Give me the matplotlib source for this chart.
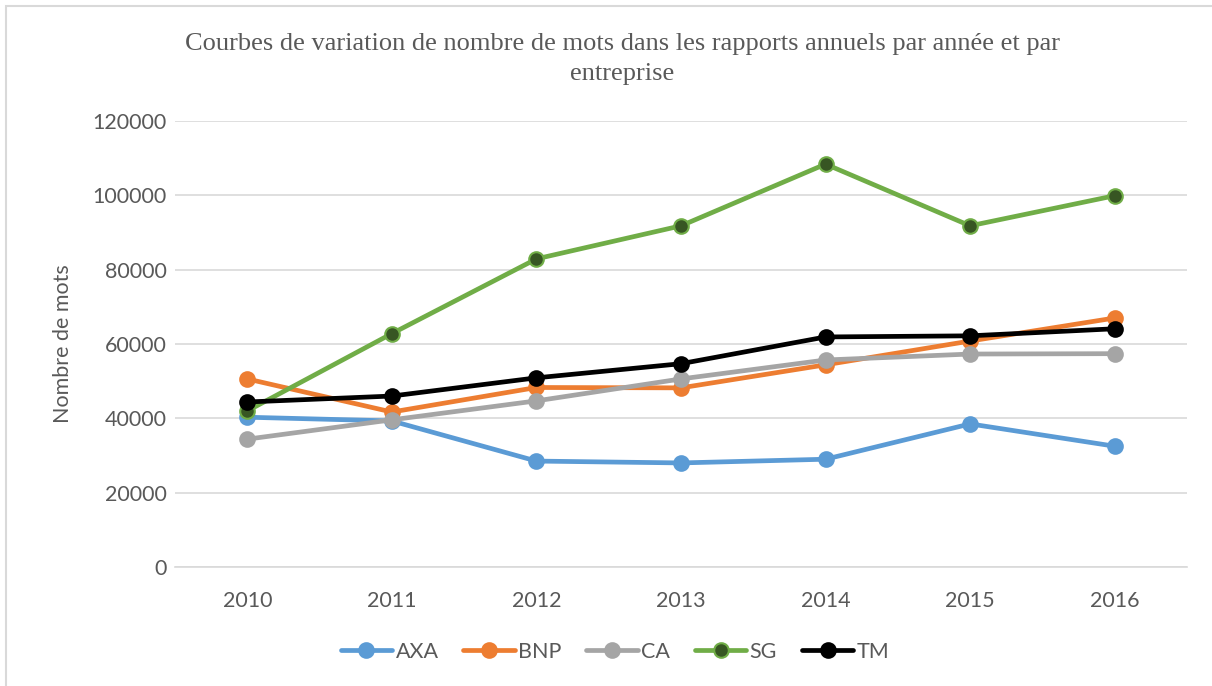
import matplotlib.pyplot as plt
from matplotlib.patches import Rectangle

years = ['2010', '2011', '2012', '2013', '2014', '2015', '2016']
axa = [40300, 39300, 28500, 28000, 29000, 38500, 32500]
bnp = [50600, 41700, 48300, 48200, 54400, 60800, 67000]
ca = [34400, 39600, 44700, 50600, 55700, 57300, 57400]
sg = [42000, 62800, 82900, 91800, 108400, 91800, 99900]
tm = [44400, 46000, 50900, 54700, 61900, 62200, 64100]

series = [
    ('AXA', axa, '#5B9BD5', '#5B9BD5'),
    ('BNP', bnp, '#ED7D31', '#ED7D31'),
    ('CA', ca, '#A5A5A5', '#A5A5A5'),
    ('SG', sg, '#70AD47', '#375623'),
    ('TM', tm, '#000000', '#000000'),
]

text_color = '#595959'
plt.rcParams['font.family'] = ['Lato', 'DejaVu Sans']

fig = plt.figure(figsize=(12.12, 6.86), dpi=100)
ax = fig.add_axes([175 / 1212, 1 - 567 / 686, 1012 / 1212, 446 / 686])

x = list(range(len(years)))
for name, vals, color, face in series:
    ax.plot(x, vals, color=color, lw=3.4, marker='o', markersize=10.5,
            markerfacecolor=face, markeredgecolor=color, markeredgewidth=1.5,
            label=name, solid_capstyle='round')

ax.set_xlim(-0.5, len(years) - 0.5)
ax.set_ylim(0, 120000)
ax.set_yticks(range(0, 120001, 20000))
ax.set_xticks(x)
ax.set_xticklabels(years)
ax.grid(axis='y', color='#D9D9D9', lw=1.2)
ax.set_axisbelow(True)
for side in ['top', 'right', 'left']:
    ax.spines[side].set_visible(False)
ax.spines['bottom'].set_color('#D9D9D9')
ax.spines['bottom'].set_linewidth(1.2)
ax.tick_params(axis='both', length=0, labelsize=15.5, labelcolor=text_color)
ax.tick_params(axis='x', pad=17)
ax.tick_params(axis='y', pad=6)
ax.set_ylabel('Nombre de mots', fontsize=15.5, color=text_color, labelpad=14)

fig.text(622 / 1212, 1 - 59 / 686,
         'Courbes de variation de nombre de mots dans les rapports annuels par année et par\nentreprise',
         ha='center', va='center', fontsize=19, color=text_color,
         family='Liberation Serif', linespacing=1.45)

fig.legend(loc='center', bbox_to_anchor=(615 / 1212, 1 - 652 / 686), ncol=5,
           frameon=False, fontsize=15.5, labelcolor=text_color, handlelength=2.4,
           handletextpad=0.15, columnspacing=1.15)

# chart area border
fig.patches.append(Rectangle((6 / 1212, -0.1), 1.2, 1 - 6 / 686 + 0.1,
                             transform=fig.transFigure, fill=False,
                             edgecolor='#D9D9D9', lw=1.5))

fig.savefig('out.png', dpi=100)
